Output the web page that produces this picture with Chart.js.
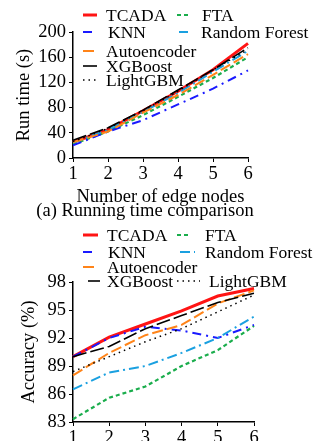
<!DOCTYPE html>
<html>
<head>
<meta charset="utf-8">
<script src="https://cdn.jsdelivr.net/npm/chart.js@4.4.0/dist/chart.umd.min.js"></script>
<style>
  html, body { margin: 0; padding: 0; background: #fff; overflow: hidden; }
  body { width: 320px; height: 441px; position: relative; font-family: "Liberation Serif", serif; }
  #c1 { position: absolute; left: 0; top: 0; }
  #c2 { position: absolute; left: 0; top: 220px; }
  #cap1 { position: absolute; left: 0; width: 290px; top: 200px; text-align: center; font-size: 18.5px; line-height: 20px; color: #000; }
</style>
</head>
<body>
<canvas id="c1" width="320" height="206"></canvas>
<div id="cap1">(a) Running time comparison</div>
<canvas id="c2" width="320" height="250"></canvas>
<script>
const edgeNodes = ['1', '2', '3', '4', '5', '6'];
const methods = ['TCADA', 'FTA', 'KNN', 'Random Forest', 'Autoencoder', 'XGBoost', 'LightGBM'];

// run time (s)
const timeTCADA = [25, 45, 75, 106, 140, 182];
const timeFTA = [22, 42, 68, 97, 127, 160];
const timeKNN = [20, 42, 60, 85, 110, 139];
const timeRF = [24, 45, 73, 103, 137, 170];
const timeAuto = [25, 42, 72, 100, 132, 165];
const timeXGB = [28, 48, 76, 108, 140, 175];
const timeLGBM = [26, 47, 75, 106, 140, 172];

// accuracy (%)
const accTCADA = [90.0, 92.1, 93.5, 94.9, 96.5, 97.3];
const accFTA = [83.3, 85.6, 86.8, 89.0, 90.7, 93.3];
const accKNN = [90.0, 92.0, 93.2, 92.8, 92.0, 93.4];
const accRF = [86.5, 88.3, 89.0, 90.4, 92.0, 94.3];
const accAuto = [88.0, 90.4, 92.3, 93.4, 95.7, 97.1];
const accXGB = [90.0, 91.1, 93.0, 94.4, 95.8, 96.8];
const accLGBM = [88.4, 90.0, 91.6, 93.0, 94.8, 96.6];

const styles = {
  'TCADA':         { color: '#ff1414', width: 3,   dash: [] },
  'FTA':           { color: '#1aad4c', width: 2.2, dash: [4, 3] },
  'KNN':           { color: '#1a1aff', width: 2,   dash: [9, 5, 2, 5] },
  'Random Forest': { color: '#1aa0e0', width: 2,   dash: [10, 4, 2, 4] },
  'Autoencoder':   { color: '#ff8419', width: 2,   dash: [11, 4] },
  'XGBoost':       { color: '#000000', width: 1.6, dash: [14, 4] },
  'LightGBM':      { color: '#000000', width: 1.5, dash: [1.5, 4] }
};

const font = { family: 'Liberation Serif', size: 18.5, lineHeight: 1.0 };

function makeSets(values) {
  return methods.map((m, i) => ({
    label: m,
    data: values[i],
    borderColor: styles[m].color,
    backgroundColor: styles[m].color,
    borderWidth: styles[m].width,
    borderDash: styles[m].dash,
    pointRadius: 0,
    tension: 0,
    fill: false
  })).reverse();
}

// legend drawn by hand: [method, lineX1, lineX2, textX, y]
function legendPlugin(items) {
  return {
    id: 'handLegend',
    afterDraw(chart) {
      const ctx = chart.ctx;
      ctx.save();
      ctx.font = '17.5px "Liberation Serif"';
      ctx.textBaseline = 'middle';
      ctx.fillStyle = '#000';
      items.forEach(([m, x1, x2, tx, y]) => {
        const s = styles[m];
        ctx.strokeStyle = s.color;
        ctx.lineWidth = s.width;
        ctx.setLineDash(s.dash);
        ctx.beginPath();
        ctx.moveTo(x1, y);
        ctx.lineTo(x2, y);
        ctx.stroke();
        ctx.fillText(m, tx, y + 1);
      });
      ctx.restore();
    }
  };
}

function axisOpts(min, max, step, title) {
  return {
    x: {
      type: 'category',
      offset: false,
      border: { color: '#000', width: 1.5 },
      grid: { display: true, drawOnChartArea: false, tickLength: 4, color: '#000' },
      ticks: { color: '#000', font: font, padding: 3, maxRotation: 0 },
      title: { display: true, text: 'Number of edge nodes', color: '#000', font: font, padding: { top: 1, bottom: 0 } }
    },
    y: {
      min: min, max: max,
      border: { color: '#000', width: 1.5 },
      grid: { display: true, drawOnChartArea: false, tickLength: 4, color: '#000' },
      ticks: { color: '#000', font: font, padding: 3, stepSize: step },
      title: { display: true, text: title, color: '#000', font: font, padding: { top: 0, bottom: 4 } },
      afterFit(s) { s.width = 73 - s.chart.options.layout.padding.left; }
    }
  };
}

new Chart(document.getElementById('c1'), {
  type: 'line',
  data: {
    labels: edgeNodes,
    datasets: makeSets([timeTCADA, timeFTA, timeKNN, timeRF, timeAuto, timeXGB, timeLGBM])
  },
  options: {
    responsive: false,
    animation: false,
    layout: { padding: { top: 32, right: 72, left: 15, bottom: 0 } },
    plugins: { legend: { display: false }, tooltip: { enabled: false } },
    scales: axisOpts(0, 200, 40, 'Run time (s)')
  },
  plugins: [legendPlugin([
    ['TCADA', 83, 97, 106, 15],
    ['FTA', 177, 189, 202, 15],
    ['KNN', 83, 97, 108, 32],
    ['Random Forest', 179, 188, 201, 32],
    ['Autoencoder', 83, 97, 106, 51],
    ['XGBoost', 83, 97, 106, 66],
    ['LightGBM', 83, 97, 106, 80]
  ])]
});

new Chart(document.getElementById('c2'), {
  type: 'line',
  data: {
    labels: edgeNodes,
    datasets: makeSets([accTCADA, accFTA, accKNN, accRF, accAuto, accXGB, accLGBM])
  },
  options: {
    responsive: false,
    animation: false,
    layout: { padding: { top: 62, right: 66, left: 20, bottom: 0 } },
    plugins: { legend: { display: false }, tooltip: { enabled: false } },
    scales: axisOpts(83, 98, 3, 'Accuracy (%)')
  },
  plugins: [legendPlugin([
    ['TCADA', 83, 98, 107, 15],
    ['FTA', 177, 190, 205, 15],
    ['KNN', 83, 97, 108, 32],
    ['Random Forest', 180, 195, 205, 32],
    ['Autoencoder', 83, 97, 107, 47],
    ['XGBoost', 88, 100, 107, 61],
    ['LightGBM', 177, 200, 209, 61]
  ])]
});
</script>
</body>
</html>
